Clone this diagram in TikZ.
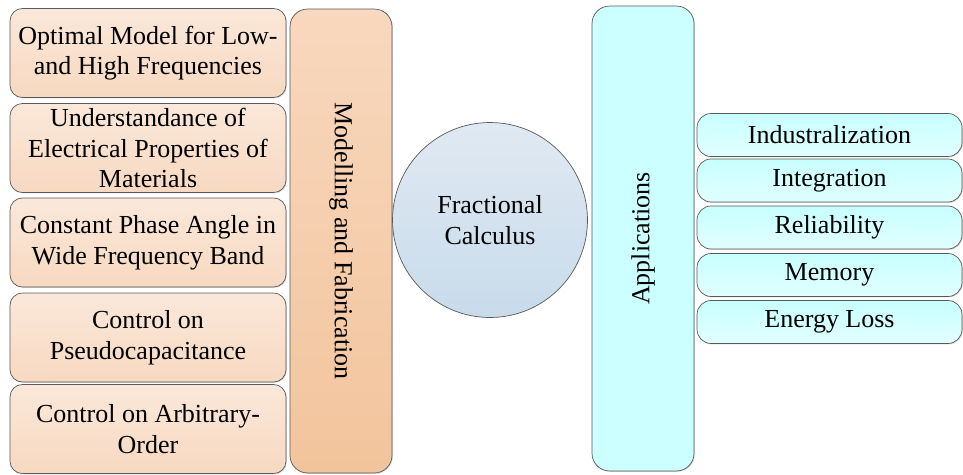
\documentclass[tikz,border=0pt]{standalone}
\usepackage{fontspec}
\setmainfont{LiberationSerif}[Extension=.ttf,UprightFont=*-Regular]
\usetikzlibrary{positioning,shadows}

\begin{document}
\begin{tikzpicture}[x=0.02cm,y=-0.02cm,
    every node/.style={font=\fontsize{14.8}{17.4}\selectfont},
    leftbox/.style={draw=black!65, rounded corners=7pt, align=center,
        minimum width=5.52cm, minimum height=1.78cm, inner sep=1pt,
        top color={rgb,255:red,251;green,232;blue,218},
        bottom color={rgb,255:red,247;green,217;blue,193},
        drop shadow={shadow xshift=0.5pt,shadow yshift=-0.5pt,opacity=0.3}},
    sidebar/.style={draw=black!65, rounded corners=10pt, inner sep=0pt,
        minimum width=2.04cm},
    appbox/.style={draw=black!65, rounded corners=8pt, align=center,
        minimum width=5.3cm, minimum height=0.86cm, inner sep=1pt,
        top color={rgb,255:red,200;green,255;blue,255},
        bottom color={rgb,255:red,225;green,255;blue,255},
        drop shadow={shadow xshift=0.5pt,shadow yshift=-0.5pt,opacity=0.3}}]
    \useasboundingbox (0,0) rectangle (963,474);

    % left column
    \node[leftbox] at (148,53) (opt) {Optimal Model for Low-\\and High Frequencies};
    \node[leftbox] at (148,148) (elec) {Understandance of\\Electrical Properties of\\Materials};
    \node[leftbox] at (148,242.5) (cpa) {Constant Phase Angle in\\Wide Frequency Band};
    \node[leftbox] at (148,337.5) (pseudo) {Control on\\Pseudocapacitance};
    \node[leftbox] at (148,429) (order) {Control on Arbitrary-\\Order};

    \node[sidebar, minimum height=9.28cm, top color={rgb,255:red,248;green,216;blue,190},
        bottom color={rgb,255:red,242;green,196;blue,156},
        drop shadow={shadow xshift=0.5pt,shadow yshift=-0.5pt,opacity=0.3}]
        at (341,241) (model) {\rotatebox{-90}{Modelling and Fabrication}};

    % centre
    \node[circle, draw=black!65, minimum size=3.9cm, align=center,
        top color={rgb,255:red,224;green,233;blue,242},
        bottom color={rgb,255:red,200;green,219;blue,235}]
        at (490,220) (fc) {Fractional\\Calculus};

    % right column
    \node[sidebar, minimum height=9.3cm, fill={rgb,255:red,204;green,255;blue,255},
        drop shadow={shadow xshift=0.5pt,shadow yshift=-0.5pt,opacity=0.3}]
        at (643,238.5) (app) {\rotatebox{90}{Applications}};

    \node[appbox] at (829.5,135) (ind) {Industralization};
    \node[appbox] at (829.5,180.5) (integ) {Integration};
    \node[appbox] at (829.5,227.5) (rel) {Reliability};
    \node[appbox] at (829.5,275) (mem) {Memory};
    \node[appbox] at (829.5,322) (loss) {Energy Loss};
\end{tikzpicture}
\end{document}
